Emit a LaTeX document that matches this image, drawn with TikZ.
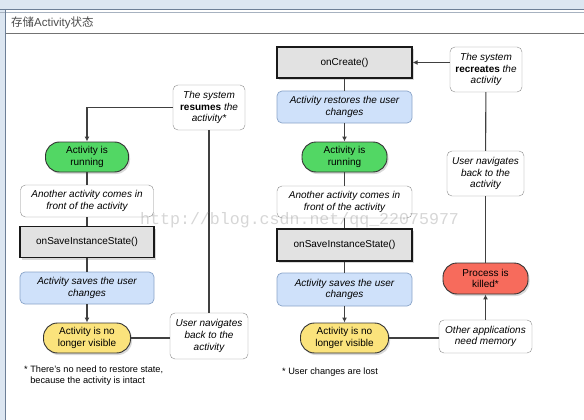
\documentclass[tikz,border=0pt]{standalone}
\usepackage{fontspec}
\setmainfont{Liberation Sans}
\newfontfamily\cjkfont{Noto Sans CJK SC}
\newfontfamily\markfont{Liberation Mono}
\usetikzlibrary{arrows.meta,positioning,shadows}
\definecolor{runfill}{HTML}{52D764}
\definecolor{gonefill}{HTML}{FBE37C}
\definecolor{killfill}{HTML}{F76B5C}
\definecolor{userfill}{HTML}{CFE1FA}
\definecolor{userrule}{HTML}{8AA4C8}
\definecolor{callfill}{HTML}{E2E2E2}
\definecolor{framebl}{HTML}{6D7F96}
\definecolor{framelt}{HTML}{DCE6F1}

\begin{document}
\begin{tikzpicture}[x=1pt,y=-1pt,font=\fontsize{10}{11.7}\selectfont,
  shade/.style={drop shadow={shadow xshift=1.5pt,shadow yshift=-2pt,opacity=0.3}},
  state/.style={draw=black!80,line width=0.9pt,rounded corners=14pt,minimum height=30pt,
                align=center,inner sep=2pt,shade},
  call/.style={draw=black!90,fill=callfill,line width=1.3pt,minimum width=134pt,
               minimum height=31pt,align=center,inner sep=2pt,shade},
  user/.style={draw=userrule,fill=userfill,line width=0.7pt,rounded corners=5pt,minimum width=134pt,
               minimum height=32pt,align=center,inner sep=2pt,font=\fontsize{10}{11.7}\selectfont\itshape},
  cause/.style={draw=black!45,fill=white,rounded corners=5pt,align=center,inner sep=2pt,
                font=\fontsize{10}{11.7}\selectfont\itshape},
  fnote/.style={font=\fontsize{9.2}{11.5}\selectfont,align=left,inner sep=0pt,anchor=north west},
  link/.style={draw=black!75,line width=1.1pt},
  go/.style={link,-{Latex[length=5pt,width=5pt]}}]
\useasboundingbox (0,0) rectangle (584,420);

% ---------------- window frame ---------------------------------------------
\fill[framelt] (0,0) rectangle (584,9);
\fill[framelt] (0,9) rectangle (5,420);
\draw[framebl,line width=1pt] (0,10) -- (584,10);
\draw[framebl!60,line width=0.6pt] (0,12) -- (584,12);
\draw[framebl,line width=1pt] (5.5,10) -- (5.5,420);
\draw[black!55,line width=0.8pt] (6,33.5) -- (584,33.5);
\node[anchor=west,inner sep=0pt,text=black!70,font=\fontsize{11.5}{13}\selectfont] (title) at (11,23)
  {{\cjkfont 存储}Activity{\cjkfont 状态}};

% ---------------- left: the activity stays in memory -----------------------
\node[cause,minimum width=72pt,minimum height=45pt] (resL) at (209,107.5)
  {The system\\ {\upshape\bfseries resumes} the\\ activity*};
\node[state,fill=runfill,minimum width=83pt] (runL) at (87,157) {Activity is\\ running};
\node[cause,minimum width=133pt,minimum height=32pt] (frontL) at (87,201)
  {Another activity comes in\\ front of the activity};
\node[call] (saveL) at (87,242) {onSaveInstanceState()};
\node[user] (keepL) at (87,288) {Activity saves the user\\ changes};
\node[state,fill=gonefill,minimum width=87pt] (goneL) at (87,338) {Activity is no\\ longer visible};
\node[cause,minimum width=78pt,minimum height=46pt] (backL) at (209,336)
  {User navigates\\ back to the\\ activity};
\node[fnote] (noteL) at (24,365.5)
  {* There's no need to restore state,\\ \hphantom{* }because the activity is intact};

\draw[go] (resL.west) -| (runL.north);
\draw[link] (runL) -- (frontL);
\draw[link] (frontL) -- (saveL);
\draw[link] (saveL) -- (keepL);
\draw[go] (keepL) -- (goneL);
\draw[link] (goneL.east) -- (goneL.east -| backL.west);
\draw[link] (backL) -- (resL);

% ---------------- right: the process is killed ------------------------------
\node[call,minimum width=135pt] (create) at (344.5,62.5) {onCreate()};
\node[cause,minimum width=72pt,minimum height=45pt] (recreate) at (486,69.5)
  {The system\\ {\upshape\bfseries recreates} the\\ activity};
\node[user,minimum width=135pt] (restore) at (344.5,107) {Activity restores the user\\ changes};
\node[state,fill=runfill,minimum width=85pt] (runR) at (344.5,157) {Activity is\\ running};
\node[cause,minimum width=135pt,minimum height=32pt] (frontR) at (344.5,202)
  {Another activity comes in\\ front of the activity};
\node[call,minimum width=135pt,minimum height=32pt] (saveR) at (344.5,245) {onSaveInstanceState()};
\node[user,minimum width=135pt,minimum height=33pt] (keepR) at (344.5,289.5)
  {Activity saves the user\\ changes};
\node[state,fill=gonefill,minimum width=88pt] (goneR) at (344.5,338) {Activity is no\\ longer visible};
\node[cause,minimum width=93pt,minimum height=33pt] (memory) at (485.5,336.5)
  {Other applications\\ need memory};
\node[state,fill=killfill,minimum width=85pt,minimum height=31pt] (killed) at (485.5,278.5)
  {Process is\\ killed*};
\node[cause,minimum width=77pt,minimum height=45pt] (backR) at (485.5,173.5)
  {User navigates\\ back to the\\ activity};
\node[fnote] (noteR) at (282,368) {* User changes are lost};

\draw[go] (create.east -| recreate.west) -- (create.east);
\draw[link] (create) -- (restore);
\draw[go] (restore) -- (runR);
\draw[link] (runR) -- (frontR);
\draw[link] (frontR) -- (saveR);
\draw[link] (saveR) -- (keepR);
\draw[go] (keepR) -- (goneR);
\draw[link] (goneR.east) -- (goneR.east -| memory.west);
\draw[go] (memory) -- (killed);
\draw[link] (killed) -- (backR);
\draw[link] (backR) -- (recreate);

% ---------------- watermark -------------------------------------------------
\node[anchor=west,inner sep=0pt,text=black!40,opacity=0.4,
      font=\markfont\fontsize{16.6}{18}\selectfont] (mark) at (140,220)
  {http://blog.csdn.net/qq\_22075977};

\end{tikzpicture}
\end{document}
